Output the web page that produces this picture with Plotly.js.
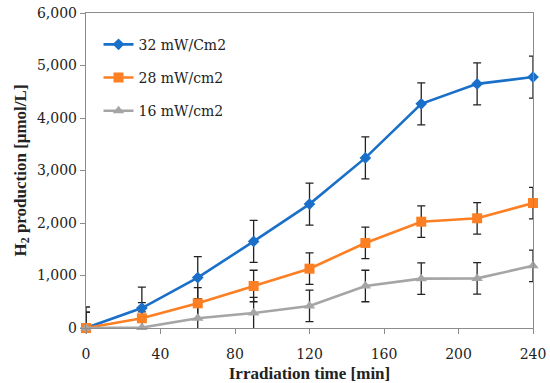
<!DOCTYPE html>
<html>
<head>
<meta charset="utf-8">
<script src="https://cdn.plot.ly/plotly-3.0.1.min.js"></script>
<style>html,body{margin:0;padding:0;background:#fff;}#chart{width:550px;height:383px;}</style>
</head>
<body>
<div id="chart"></div>
<script>
const times = [0, 30, 60, 90, 120, 150, 180, 210, 240];
const s32 = [0, 380, 960, 1650, 2360, 3240, 4270, 4650, 4780];
const s28 = [0, 185, 470, 800, 1130, 1620, 2025, 2090, 2380];
const s16 = [0, 8, 185, 285, 420, 800, 940, 945, 1185];
const err32 = 400;
const err28 = 300;
const err16 = 300;
const names = ["32 mW/Cm2", "28 mW/cm2", "16 mW/cm2"];
const colors = ["#1a6fc8", "#fd7f23", "#a5a5a5"];
const symbols = ["diamond", "square", "triangle-up"];
const sizes = [9, 10, 10];

const series = [s32, s28, s16];
const errs = [err32, err28, err16];
const tickFont = "DejaVu Serif, serif";
const titleFont = "Liberation Serif, Times New Roman, serif";

const traces = [];
series.forEach((s, i) => {
  traces.push({
    x: times, y: s, mode: "markers", type: "scatter",
    marker: {size: 1, opacity: 0},
    showlegend: false, hoverinfo: "skip", cliponaxis: true,
    error_y: {type: "constant", value: errs[i], color: "#222", thickness: 1.3, width: 4}
  });
});
series.forEach((s, i) => {
  traces.push({
    x: times, y: s, mode: "lines+markers", type: "scatter", name: names[i],
    legendgroup: "g" + i,
    line: {color: colors[i], width: 2.6},
    marker: {color: colors[i], symbol: symbols[i], size: sizes[i]},
    cliponaxis: false
  });
});

const layout = {
  width: 550, height: 383,
  margin: {l: 86, r: 17, t: 13, b: 55},
  paper_bgcolor: "#fff", plot_bgcolor: "#fff",
  font: {family: tickFont, size: 14, color: "#222"},
  showlegend: true,
  legend: {x: 0.028, y: 0.95, xanchor: "left", yanchor: "top", bgcolor: "rgba(0,0,0,0)",
           font: {family: tickFont, size: 14, color: "#222"}, tracegroupgap: 12,
           traceorder: "grouped"},
  xaxis: {
    range: [0, 240], tickvals: [0, 40, 80, 120, 160, 200, 240],
    showgrid: false, zeroline: false, showline: true, linecolor: "#8c8c8c", linewidth: 1.2,
    mirror: true, ticks: "outside", ticklen: 5, tickcolor: "#8c8c8c",
    ticklabelstandoff: 8,
    tickfont: {family: tickFont, size: 14, color: "#222"},
    title: {text: "<b>Irradiation time [min]</b>", font: {family: titleFont, size: 17, color: "#222"}, standoff: 6}
  },
  yaxis: {
    range: [0, 6000], tickvals: [0, 1000, 2000, 3000, 4000, 5000, 6000],
    tickformat: ",d", separatethousands: true,
    showgrid: false, zeroline: false, showline: true, linecolor: "#8c8c8c", linewidth: 1.2,
    mirror: true, ticks: "outside", ticklen: 5, tickcolor: "#8c8c8c",
    tickfont: {family: tickFont, size: 14, color: "#222"},
    title: {text: "<b>H<sub>2</sub> production [μmol/L]</b>", font: {family: titleFont, size: 17, color: "#222"}, standoff: 6}
  }
};
Plotly.newPlot("chart", traces, layout, {displayModeBar: false, staticPlot: true});
</script>
</body>
</html>
